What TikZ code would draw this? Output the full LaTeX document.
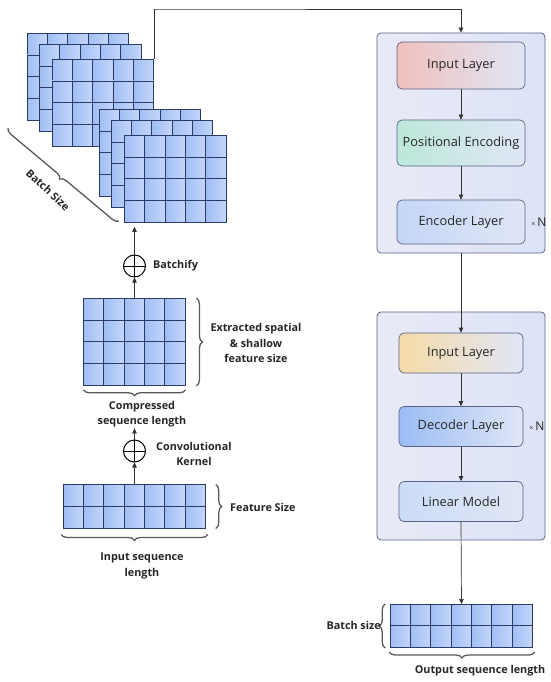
\documentclass[tikz,border=0pt]{standalone}
\usepackage{fontspec}
\setmainfont{Open Sans}
\usepackage{xcolor}
\usepackage{tikz}
\usetikzlibrary{arrows.meta, positioning, decorations.pathreplacing}

\definecolor{cellA}{HTML}{A0BEF4}
\definecolor{cellB}{HTML}{C4D6FA}
\definecolor{navy}{HTML}{2C3A66}
\definecolor{linegray}{HTML}{333333}
\definecolor{framegray}{HTML}{5B6285}
\definecolor{panelA}{HTML}{E9EAF6}
\definecolor{panelB}{HTML}{DCE3F7}
\definecolor{pinkA}{HTML}{F0C0BD}
\definecolor{greenA}{HTML}{BCE8D9}
\definecolor{encA}{HTML}{C4D6F6}
\definecolor{sandA}{HTML}{F6DBA8}
\definecolor{decA}{HTML}{9BBDF5}
\definecolor{linA}{HTML}{CBDCF7}
\definecolor{paleB}{HTML}{E0E6F6}

% one feature map: name, centre x, centre y, columns, rows
\newcommand\featmap[5]{%
  \node[fmap, minimum width=#4*20.3pt, minimum height=#5*21.8pt] (#1) at (#2,#3) {};
  \foreach \c in {1,...,#4}
    \foreach \r in {1,...,#5}
      \draw[cell] ([xshift=\c*20.3pt-20.3pt, yshift=-\r*21.8pt+21.8pt]#1.north west)
        rectangle ++(20.3pt,-21.8pt);
}

\begin{document}
\begin{tikzpicture}[
  x=1pt, y=-1pt,
  fmap/.style={rectangle, inner sep=0pt, draw=none},
  cell/.style={draw=navy, line width=0.8pt, left color=cellA, right color=cellB},
  stackbox/.style={
    rectangle, draw=framegray, rounded corners=4pt, line width=0.8pt,
    left color=panelA, right color=panelB, minimum width=168pt
  },
  layer/.style={
    rectangle, draw=framegray, rounded corners=5pt, line width=0.7pt,
    minimum width=128pt, font=\fontsize{12.8}{15}\selectfont, text=black!85
  },
  lbl/.style={font=\bfseries\fontsize{10.8}{15.5}\selectfont, text=black!85, align=center, inner sep=1pt},
  oplus/.style={
    circle, draw=black, line width=1pt, minimum size=22pt, inner sep=0pt,
    path picture={\draw[line width=1pt]
      (path picture bounding box.north) -- (path picture bounding box.south)
      (path picture bounding box.west) -- (path picture bounding box.east);}
  },
  arrow/.style={-{Triangle[length=5pt,width=4.5pt]}, draw=linegray, line width=0.7pt},
  brc/.style={decorate, decoration={brace, amplitude=6pt}, draw=black!65, line width=1.3pt},
  timesn/.style={font=\fontsize{12}{14}\selectfont, text=black!85}
]
\useasboundingbox (0,0) rectangle (550,682);

% --- batched feature maps ---
\featmap{bs1}{78}{77}{5}{4}
\featmap{bs2}{90.5}{88}{5}{4}
\featmap{bs3}{103}{103}{5}{4}
\featmap{fs1}{150}{153}{5}{4}
\featmap{fs2}{162}{164}{5}{4}
\featmap{fs3}{175.5}{179}{5}{4}

\draw[brc] (119,221) -- (8,128);
\node[lbl, rotate=-43] (bsize) at (48,190) {Batch Size};

% --- compressed map ---
\featmap{cmp}{134.5}{342}{5}{4}
\node[oplus] (batchify) at (134.5,266) {};
\node[lbl, right=6pt of batchify] (batchlbl) {Batchify};

\draw[brc] ([xshift=11pt]cmp.north east) -- ([xshift=11pt]cmp.south east);
\node[lbl] (extlbl) at (256,343) {Extracted spatial\\ \& shallow\\ feature size};
\draw[brc] ([yshift=-4pt]cmp.south east) -- ([yshift=-4pt]cmp.south west);
\node[lbl] (cmplbl) at (142,414) {Compressed\\ sequence length};

% --- input sequence ---
\featmap{inp}{134.5}{506.5}{7}{2}
\node[oplus] (conv) at (134.5,451) {};
\node[lbl, right=9pt of conv, yshift=-3pt] (convlbl) {Convolutional\\ Kernel};

\draw[brc] ([xshift=10pt]inp.north east) -- ([xshift=10pt]inp.south east);
\node[lbl, anchor=west] (featlbl) at (229,507) {Feature Size};
\draw[brc] ([xshift=2pt,yshift=-6pt]inp.south east) -- ([xshift=-2pt,yshift=-6pt]inp.south west);
\node[lbl] (inplbl) at (142,566) {Input sequence\\ length};

% --- encoder ---
\node[stackbox, minimum height=220pt] (enc) at (461,143) {};
\node[layer, minimum height=47pt, left color=pinkA, right color=paleB] (encin) at (461,65.5) {Input Layer};
\node[layer, minimum height=46pt, left color=greenA, right color=paleB] (pe) at (461,143) {Positional Encoding};
\node[layer, minimum height=44pt, left color=encA, right color=paleB] (enclayer) at (461,222) {Encoder Layer};
\node[timesn] (encn) at (539,222) {{\scriptsize ×}\,N};

% --- decoder ---
\node[stackbox, minimum height=228pt] (dec) at (461,426) {};
\node[layer, minimum width=124pt, minimum height=40pt, left color=sandA, right color=paleB] (decin) at (461,353) {Input Layer};
\node[layer, minimum width=124pt, minimum height=40pt, left color=decA, right color=paleB] (declayer) at (461,426.5) {Decoder Layer};
\node[layer, minimum width=124pt, minimum height=40pt, left color=linA, right color=paleB] (linear) at (461,501.5) {Linear Model};
\node[timesn] (decn) at (537,426) {{\scriptsize ×}\,N};

% --- output ---
\featmap{outg}{461.5}{626}{7}{2}
\draw[brc] ([xshift=-5pt]outg.south west) -- ([xshift=-5pt]outg.north west);
\node[lbl, anchor=east] (bszlbl) at (382,625) {Batch size};
\draw[brc] ([xshift=2pt,yshift=-4pt]outg.south east) -- ([xshift=-1pt,yshift=-4pt]outg.south west);
\node[lbl] (outlbl) at (480,671) {Output sequence length};

% Arrows
\coordinate (topbend) at (153.5,9);
\draw[arrow] (bs3.north east) |- (topbend) -| (enc.north);
\draw[arrow] (encin) -- (pe);
\draw[arrow] (pe) -- (enclayer);
\draw[arrow] (enc.south) -- (decin.north);
\draw[arrow] (decin) -- (declayer);
\draw[arrow] (declayer) -- (linear);
\draw[arrow] (linear.south) -- (outg.north);
\draw[arrow] (cmp.north) -- (batchify.south);
\draw[arrow] (batchify.north) -- ([yshift=-4pt]batchify.north |- fs3.south);
\draw[arrow] (inp.north) -- (conv.south);
\draw[arrow] (conv.north) -- (conv.north |- cmplbl.south);

\end{tikzpicture}
\end{document}
